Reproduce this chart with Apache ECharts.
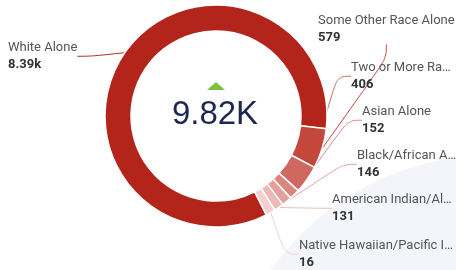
<!DOCTYPE html>
<html>
<head>
<meta charset="utf-8">
<script src="https://cdn.jsdelivr.net/npm/echarts@6/dist/echarts.min.js"></script>
<style>
	html, body {margin: 0; padding: 0; background: #fff;}
	#chart {width: 456px; height: 270px;}
</style>
</head>
<body>
<div id="chart"></div>
<script>
//	chart data
var categories = ['White Alone', 'Some Other Race Alone', 'Two or More Races', 'Asian Alone',
	'Black/African American Alone', 'American Indian/Alaska Native Alone', 'Native Hawaiian/Pacific Islander Alone'];
var shownNames = ['White Alone', 'Some Other Race Alone', 'Two or More Ra\u2026', 'Asian Alone',
	'Black/African A\u2026', 'American Indian/Al\u2026', 'Native Hawaiian/Pacific I\u2026'];
var values = [8390, 579, 406, 152, 146, 131, 16];
var shownValues = ['8.39k', '579', '406', '152', '146', '131', '16'];
var totalLabel = '9.82K';

var colors = ['#b3251a', '#c4473c', '#cf6860', '#da857e', '#e3a19c', '#ebbab6', '#f2d1ce'];

//	label spots: [x, y of block centre]
var labelSpots = [[8, 56], [318, 29], [351, 76], [362, 120], [357, 164], [332, 208], [299, 254]];

var pieData = [];
for(var i=0; i<values.length; i++) {
	pieData.push({
		name: categories[i],
		value: values[i],
		itemStyle: {color: colors[i]},
		labelLine: {lineStyle: {color: colors[i]}}
	});
}

var myChart = echarts.init(document.getElementById('chart'));

var option = {
	animation: false,
	graphic: [
		{
			type: 'circle',
			z: 0,
			shape: {cx: 492, cy: 425, r: 270},
			style: {fill: '#f4f5fa'}
		},
		{
			type: 'polygon',
			z: 10,
			shape: {points: [[207, 90], [225, 90], [216, 82]]},
			style: {fill: '#7cc242'}
		},
		{
			type: 'text',
			z: 10,
			x: 215,
			y: 115,
			style: {
				text: totalLabel,
				fill: '#1b2850',
				font: '33px "Liberation Sans", Arial, sans-serif',
				align: 'center',
				verticalAlign: 'middle'
			}
		}
	],
	series: [
		{
			type: 'pie',
			center: [216, 116],
			radius: [85, 111],
			startAngle: -63,
			clockwise: true,
			minAngle: 5,
			avoidLabelOverlap: false,
			itemStyle: {borderColor: '#fff', borderWidth: 1.5},
			label: {
				show: true,
				position: 'outside',
				formatter: function(p) {
					return '{n|' + shownNames[p.dataIndex] + '}\n{v|' + shownValues[p.dataIndex] + '}';
				},
				rich: {
					n: {fontFamily: 'Roboto', fontSize: 13, color: '#555', lineHeight: 18},
					v: {fontFamily: 'Roboto', fontSize: 13, fontWeight: 'bold', color: '#333', lineHeight: 17}
				}
			},
			labelLine: {show: true, length: 12, length2: 14, smooth: 0.4, lineStyle: {width: 1}},
			labelLayout: function(p) {
				var s = labelSpots[p.dataIndex];
				return {x: s[0], y: s[1], align: 'left', verticalAlign: 'middle'};
			},
			data: pieData
		}
	]
};

myChart.setOption(option);
</script>
</body>
</html>
